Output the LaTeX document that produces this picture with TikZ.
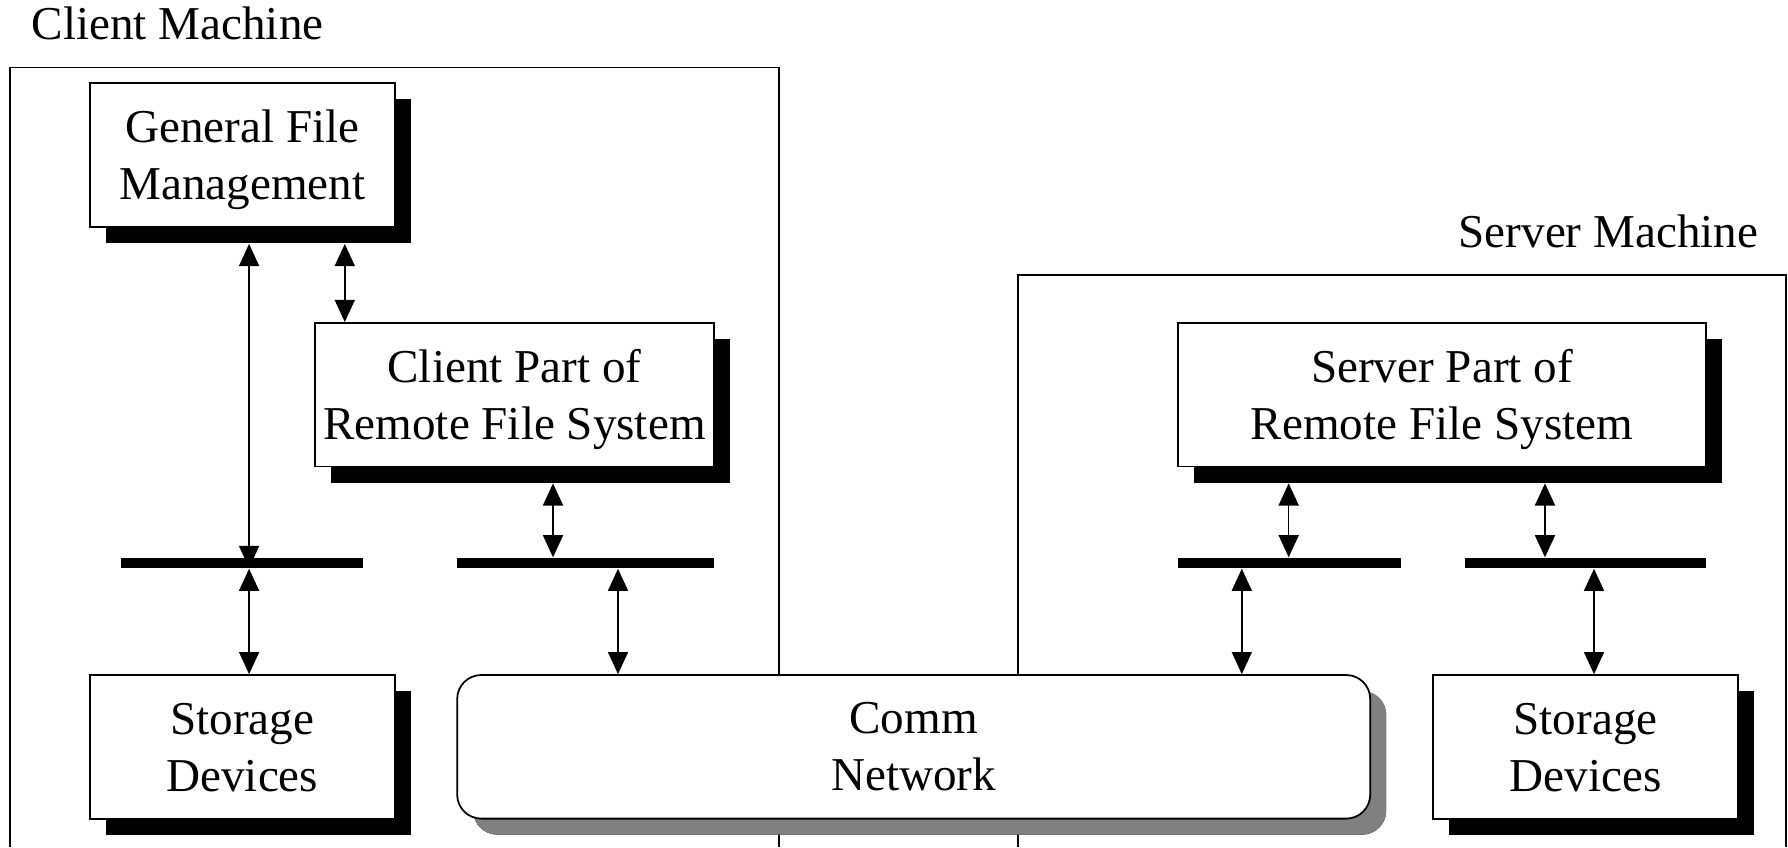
\documentclass[tikz,border=0pt]{standalone}
\usepackage{fontspec}
\setmainfont{Liberation Serif}
\usetikzlibrary{arrows.meta, shadows, calc}
\tikzset{
  part box/.style={
    draw,
    fill=white,
    line width=0.5pt,
    align=center,
    inner sep=0pt,
    text depth=0pt,
    font=\fontsize{13.4pt}{16.2pt}\selectfont,
    drop shadow={shadow xshift=0.16cm, shadow yshift=-0.16cm, fill=black, opacity=1},
  },
  bus bar/.style={
    fill=black,
    inner sep=0pt,
    minimum height=0.1cm,
  },
  machine label/.style={
    inner sep=0pt,
    font=\fontsize{13.4pt}{16.2pt}\selectfont,
  },
  link/.style={
    <->,
    >={Triangle[length=6.3pt, width=5.7pt]},
    line width=0.45pt,
  },
}

\begin{document}
\begin{tikzpicture}[x=0.01cm, y=-0.01cm]
        \useasboundingbox (0,0) rectangle (1788,847);

        % machine frames
        \draw[line width=0.5pt] (10,847) -- (10,67.5) -- (779,67.5) -- (779,847);
        \draw[line width=0.5pt] (1018.3,847) -- (1018.3,275) -- (1785.7,275) -- (1785.7,847);
        \node[machine label, anchor=base west] (clientlbl) at (31,39.5) {Client Machine};
        \node[machine label, anchor=base east] (serverlbl) at (1759,247) {Server Machine};

        \node[part box, minimum width=3.045cm, minimum height=1.44cm] (gfm)   at (242.3,155)   {General File\\Management};
        \node[part box, minimum width=3.99cm,  minimum height=1.435cm] (cpart) at (514.5,394.7) {Client Part of\\Remote File System};
        \node[part box, minimum width=3.045cm, minimum height=1.437cm] (lsd)   at (242.3,746.9) {Storage\\Devices};
        \node[part box, rounded corners=0.24cm, minimum width=9.125cm, minimum height=1.435cm,
              drop shadow={shadow xshift=0.16cm, shadow yshift=-0.16cm, fill=black!50, opacity=1}]
              (comm)  at (913.7,746.8) {Comm\\Network};
        \node[part box, minimum width=5.28cm,  minimum height=1.435cm] (spart) at (1442,394.7) {Server Part of\\Remote File System};
        \node[part box, minimum width=3.05cm,  minimum height=1.437cm] (rsd)   at (1585.5,746.9) {Storage\\Devices};

        % points just under the shadows
        \coordinate (g1) at ($(gfm.south west)+(160,16)$);
        \coordinate (g2) at ($(gfm.south west)+(255.7,16)$);
        \coordinate (c1) at ($(cpart.south west)+(239,16)$);
        \coordinate (s1) at ($(spart.south west)+(111.7,16)$);
        \coordinate (s2) at ($(spart.south west)+(368,16)$);

        \draw[link] (g1) -- (g1 |- 0,568);
        \draw[link] (g2) -- (g2 |- cpart.north);

        \node[bus bar, minimum width=2.416cm] (bar1) at (241.8,563) {};
        \node[bus bar, minimum width=2.57cm]  (bar2) at (585.5,563) {};
        \node[bus bar, minimum width=2.23cm]  (bar3) at (1289.5,563) {};
        \node[bus bar, minimum width=2.41cm]  (bar4) at (1585.5,563) {};

        \draw[link] (c1) -- (c1 |- bar2.north);
        \draw[link] (s1) -- (s1 |- bar3.north);
        \draw[link] (s2) -- (s2 |- bar4.north);

        \draw[link] (g1 |- bar1.south) -- (g1 |- lsd.north);
        \draw[link] (bar2.south -| 618,0) -- (comm.north -| 618,0);
        \draw[link] (bar3.south -| 1241.8,0) -- (comm.north -| 1241.8,0);
        \draw[link] (bar4.south -| 1594,0) -- (rsd.north -| 1594,0);
      \end{tikzpicture}
\end{document}
